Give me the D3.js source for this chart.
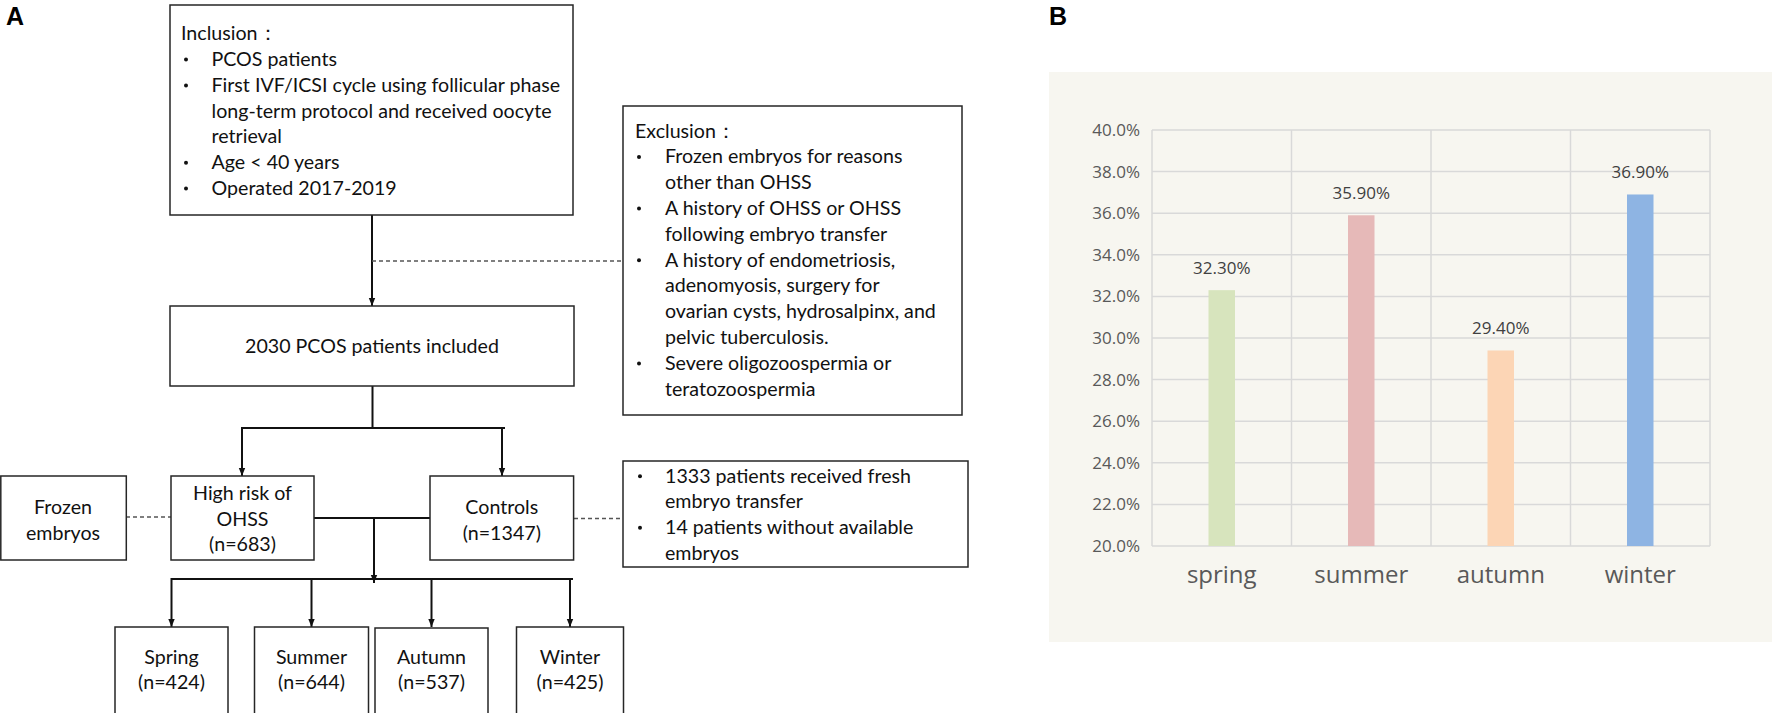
<!DOCTYPE html>
<html>
<head>
<meta charset="utf-8">
<script src="https://cdn.jsdelivr.net/npm/d3@7/dist/d3.min.js"></script>
<style>
  html, body { margin: 0; padding: 0; background: #ffffff; }
  svg { display: block; }
</style>
</head>
<body>
<svg id="fig" width="1772" height="713"></svg>
<script>
// ---- data: panel B ----
const seasons = ["spring", "summer", "autumn", "winter"]
const rates = [0.323, 0.359, 0.294, 0.369]
const rateLabels = ["32.30%", "35.90%", "29.40%", "36.90%"]
const barColors = ["#d7e4bd", "#e6b9b8", "#fcd5b5", "#8eb4e3"]
const yTicks = [0.20, 0.22, 0.24, 0.26, 0.28, 0.30, 0.32, 0.34, 0.36, 0.38, 0.40]

// ---- data: panel A (flowchart text) ----
const inclusionLines = [
    { text: "Inclusion：", bullet: false, header: true },
    { text: "PCOS patients", bullet: true },
    { text: "First IVF/ICSI cycle using follicular phase", bullet: true },
    { text: "long-term protocol and received oocyte", bullet: false },
    { text: "retrieval", bullet: false },
    { text: "Age < 40 years", bullet: true },
    { text: "Operated 2017-2019", bullet: true }
]
const exclusionLines = [
    { text: "Exclusion：", bullet: false, header: true },
    { text: "Frozen embryos for reasons", bullet: true },
    { text: "other than OHSS", bullet: false },
    { text: "A history of OHSS or OHSS", bullet: true },
    { text: "following embryo transfer", bullet: false },
    { text: "A history of endometriosis,", bullet: true },
    { text: "adenomyosis, surgery for", bullet: false },
    { text: "ovarian cysts, hydrosalpinx, and", bullet: false },
    { text: "pelvic tuberculosis.", bullet: false },
    { text: "Severe oligozoospermia or", bullet: true },
    { text: "teratozoospermia", bullet: false }
]
const controlNotes = [
    { text: "1333 patients received fresh", bullet: true },
    { text: "embryo transfer", bullet: false },
    { text: "14 patients without available", bullet: true },
    { text: "embryos", bullet: false }
]
const centerBoxes = {
    included: ["2030 PCOS patients included"],
    frozen: ["Frozen", "embryos"],
    highRisk: ["High risk of", "OHSS", "(n=683)"],
    controls: ["Controls", "(n=1347)"]
}
const seasonGroups = ["Spring", "Summer", "Autumn", "Winter"]
const seasonCounts = [424, 644, 537, 425]

// ---- layout ----
const svg = d3.select("#fig")
const flowFont = "Lato, 'Open Sans', sans-serif"
const chartFont = "'Open Sans', 'Noto Sans', sans-serif"
const boxStroke = "#262626"
const lineStroke = "#111111"
const dashStroke = "#555555"

// scale the flowchart font so that the longest inclusion line spans like the original
const probe = svg.append("text")
    .attr("font-family", flowFont)
    .attr("font-size", 20)
    .text("First IVF/ICSI cycle using follicular phase")
const probeWidth = probe.node().getComputedTextLength()
probe.remove()
const flowSize = 20 * 349 / probeWidth
const lineGap = 25.8

svg.append("defs").append("marker")
    .attr("id", "arrow")
    .attr("viewBox", "0 0 10 10")
    .attr("refX", 10)
    .attr("refY", 5)
    .attr("markerWidth", 4.2)
    .attr("markerHeight", 4.2)
    .attr("markerUnits", "strokeWidth")
    .attr("orient", "auto")
    .append("path")
    .attr("d", "M0,1 L10,5 L0,9 Z")
    .attr("fill", lineStroke)

const flow = svg.append("g").attr("id", "panelA")

function box(x, y, w, h) {
    flow.append("rect")
        .attr("x", x).attr("y", y)
        .attr("width", w).attr("height", h)
        .attr("fill", "#ffffff")
        .attr("stroke", boxStroke)
        .attr("stroke-width", 1.5)
}

function listText(lines, headerX, bulletX, textX, firstY) {
    lines.forEach((line, i) => {
        const cy = firstY + i * lineGap
        if (line.bullet) {
            // small round bullet like the original's
            flow.append("circle")
                .attr("cx", bulletX + 2).attr("cy", cy + 0.5)
                .attr("r", 2)
                .attr("fill", "#111")
        }
        flow.append("text")
            .attr("x", line.header ? headerX : textX).attr("y", cy)
            .attr("dy", "0.35em")
            .attr("font-family", flowFont)
            .attr("font-size", flowSize)
            .attr("fill", "#111")
            .text(line.text)
    })
}

function centeredText(lines, cx, firstY) {
    lines.forEach((t, i) => {
        flow.append("text")
            .attr("x", cx).attr("y", firstY + i * lineGap)
            .attr("dy", "0.35em")
            .attr("text-anchor", "middle")
            .attr("font-family", flowFont)
            .attr("font-size", flowSize)
            .attr("fill", "#111")
            .text(t)
    })
}

function line(x1, y1, x2, y2, arrow) {
    const l = flow.append("line")
        .attr("x1", x1).attr("y1", y1)
        .attr("x2", x2).attr("y2", y2)
        .attr("stroke", lineStroke)
        .attr("stroke-width", 2)
    if (arrow) l.attr("marker-end", "url(#arrow)")
}

function dashed(x1, y1, x2, y2) {
    flow.append("line")
        .attr("x1", x1).attr("y1", y1)
        .attr("x2", x2).attr("y2", y2)
        .attr("stroke", dashStroke)
        .attr("stroke-width", 1.3)
        .attr("stroke-dasharray", "4,3")
}

// connectors first, boxes drawn over them
line(372, 215, 372, 306, true)
dashed(372, 261, 623, 261)
line(372.5, 386, 372.5, 428)
line(242, 428, 505, 428)
line(242, 427, 242, 476, true)
line(502, 427, 502, 476, true)
dashed(126, 517, 171, 517)
line(314, 518, 430, 518)
line(374, 518, 374, 583, true)
line(171, 579, 573, 579)
const seasonX = [115, 254.5, 375, 516.5]
const seasonW = [113, 114, 113, 107]
seasonX.forEach((x, i) => line(x + seasonW[i] / 2, 578, x + seasonW[i] / 2, 627, true))
dashed(574, 518.5, 623, 518.5)

// boxes
box(170, 5, 403, 210)
listText(inclusionLines, 181, 184, 211.5, 33.3)

box(623, 106, 339, 309)
listText(exclusionLines, 635, 637, 665, 130.7)

box(170, 306, 404, 80)
centeredText(centerBoxes.included, 372, 346.5)

box(0.8, 476, 125.5, 84)
centeredText(centerBoxes.frozen, 63, 507)

box(171, 476, 143, 84)
centeredText(centerBoxes.highRisk, 242.5, 493)

box(430, 476, 143.6, 84)
centeredText(centerBoxes.controls, 501.8, 507)

box(623, 461, 345, 106)
listText(controlNotes, 638, 638, 665, 475.7)

seasonGroups.forEach((name, i) => {
    box(seasonX[i], i == 2 ? 628 : 627, seasonW[i], 90)
    centeredText([name, "(n=" + seasonCounts[i] + ")"], seasonX[i] + seasonW[i] / 2, 656.7)
})

// panel letters
svg.append("text")
    .attr("x", 6).attr("y", 25)
    .attr("font-family", "'Liberation Sans', Arial, sans-serif")
    .attr("font-weight", "bold")
    .attr("font-size", 25)
    .text("A")
svg.append("text")
    .attr("x", 1049).attr("y", 25)
    .attr("font-family", "'Liberation Sans', Arial, sans-serif")
    .attr("font-weight", "bold")
    .attr("font-size", 25)
    .text("B")

// ---- panel B: bar chart ----
const chart = svg.append("g").attr("id", "panelB")
const plot = { left: 1152, right: 1710, top: 130, bottom: 546 }

chart.append("rect")
    .attr("x", 1049).attr("y", 72)
    .attr("width", 1772 - 1049).attr("height", 642 - 72)
    .attr("fill", "#f7f6f0")

const x = d3.scaleBand()
    .domain(seasons)
    .range([plot.left, plot.right])

const y = d3.scaleLinear()
    .domain([0.2, 0.4])
    .range([plot.bottom, plot.top])

const gridColor = "#d9d9d9"

// horizontal gridlines
chart.append("g")
    .selectAll("line")
    .data(yTicks)
    .join("line")
    .attr("x1", plot.left).attr("x2", plot.right)
    .attr("y1", d => y(d)).attr("y2", d => y(d))
    .attr("stroke", gridColor)
    .attr("stroke-width", 1.5)

// vertical gridlines at category boundaries
const bounds = seasons.map(s => x(s)).concat([plot.right])
chart.append("g")
    .selectAll("line")
    .data(bounds)
    .join("line")
    .attr("x1", d => d).attr("x2", d => d)
    .attr("y1", plot.top).attr("y2", plot.bottom)
    .attr("stroke", gridColor)
    .attr("stroke-width", 1.5)

// y tick labels
const yAxis = chart.append("g")
    .attr("transform", `translate(${plot.left - 12},0)`)
    .call(d3.axisLeft(y).tickValues(yTicks).tickFormat(d3.format(".1%")).tickSize(0).tickPadding(0))
yAxis.select(".domain").remove()
yAxis.selectAll("text")
    .attr("font-family", chartFont)
    .attr("font-size", 17)
    .attr("fill", "#595959")

// bars
const barW = x.bandwidth() * 0.19
chart.append("g")
    .selectAll("rect")
    .data(seasons)
    .join("rect")
    .attr("x", d => x(d) + x.bandwidth() / 2 - barW / 2)
    .attr("width", barW)
    .attr("y", (d, i) => y(rates[i]))
    .attr("height", (d, i) => plot.bottom - y(rates[i]))
    .attr("fill", (d, i) => barColors[i])

// value labels
chart.append("g")
    .selectAll("text")
    .data(seasons)
    .join("text")
    .attr("x", d => x(d) + x.bandwidth() / 2)
    .attr("y", (d, i) => y(rates[i]) - 22)
    .attr("dy", "0.35em")
    .attr("text-anchor", "middle")
    .attr("font-family", chartFont)
    .attr("font-size", 17)
    .attr("fill", "#404040")
    .text((d, i) => rateLabels[i])

// x axis labels
const xAxis = chart.append("g")
    .attr("transform", `translate(0,${plot.bottom})`)
    .call(d3.axisBottom(x).tickSize(0).tickPadding(20))
xAxis.select(".domain").remove()
xAxis.selectAll("text")
    .attr("font-family", chartFont)
    .attr("font-size", 24)
    .attr("fill", "#595959")
</script>
</body>
</html>
